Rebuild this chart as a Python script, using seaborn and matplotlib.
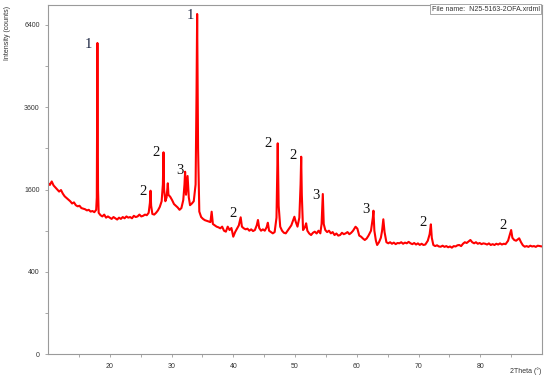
import numpy as np
import pandas as pd
import seaborn as sns
import matplotlib
matplotlib.use("Agg")
import matplotlib.pyplot as plt

# XRD pattern (2theta in degrees, intensity in counts)
two_theta = [
    10.0, 10.3, 10.6, 10.9, 11.2, 11.5, 11.8, 12.1, 12.4, 12.7, 13.0, 13.3, 13.6, 13.9,
    14.2, 14.5, 14.8, 15.1, 15.4, 15.7, 16.0, 16.3, 16.6, 16.9, 17.2, 17.5, 17.8, 17.9,
    18.0, 18.1, 18.2, 18.5, 18.8, 19.1, 19.4, 19.7, 20.0, 20.3, 20.6, 20.9, 21.2, 21.5,
    21.8, 22.1, 22.4, 22.7, 23.0, 23.3, 23.6, 23.9, 24.2, 24.5, 24.8, 25.1, 25.4, 25.7,
    26.0, 26.3, 26.5, 26.6, 26.7, 26.9, 27.2, 27.5, 27.8, 28.1, 28.4, 28.6, 28.7, 28.8,
    29.0, 29.2, 29.4, 29.5, 29.8, 30.1, 30.4, 30.7, 31.0, 31.3, 31.6, 31.9, 32.1, 32.2,
    32.35, 32.6, 32.8, 33.0, 33.3, 33.6, 33.9, 34.05, 34.15, 34.3, 34.5, 34.8, 35.1, 35.4,
    35.7, 36.0, 36.3, 36.5, 36.7, 37.0, 37.3, 37.6, 37.9, 38.2, 38.5, 38.8, 39.1, 39.4,
    39.7, 40.0, 40.3, 40.6, 40.9, 41.2, 41.4, 41.7, 42.0, 42.3, 42.6, 42.9, 43.2, 43.5,
    43.8, 44.0, 44.2, 44.5, 44.8, 45.1, 45.4, 45.6, 45.8, 46.1, 46.4, 46.7, 47.0, 47.2,
    47.35, 47.6, 47.9, 48.2, 48.5, 48.8, 49.1, 49.4, 49.7, 49.9, 50.1, 50.4, 50.7, 50.9,
    51.0, 51.1, 51.3, 51.6, 51.8, 52.0, 52.3, 52.6, 52.9, 53.2, 53.5, 53.8, 54.1, 54.3,
    54.5, 54.65, 54.9, 55.2, 55.5, 55.8, 56.1, 56.4, 56.7, 57.0, 57.3, 57.6, 57.9, 58.2,
    58.5, 58.8, 59.1, 59.4, 59.8, 60.1, 60.4, 60.7, 61.0, 61.3, 61.6, 61.9, 62.3, 62.6,
    62.7, 62.85, 63.1, 63.3, 63.6, 63.9, 64.1, 64.3, 64.5, 64.8, 65.1, 65.4, 65.7, 66.0,
    66.3, 66.6, 66.9, 67.2, 67.5, 67.8, 68.1, 68.4, 68.7, 69.0, 69.3, 69.6, 69.9, 70.2,
    70.5, 70.8, 71.1, 71.5, 71.8, 72.0, 72.15, 72.4, 72.7, 73.0, 73.3, 73.6, 73.9, 74.2,
    74.5, 74.8, 75.1, 75.4, 75.7, 76.0, 76.3, 76.6, 76.9, 77.2, 77.5, 77.8, 78.1, 78.4,
    78.7, 79.0, 79.3, 79.6, 79.9, 80.2, 80.5, 80.8, 81.1, 81.4, 81.7, 82.0, 82.3, 82.6,
    82.9, 83.2, 83.5, 83.8, 84.1, 84.5, 84.8, 85.0, 85.2, 85.5, 85.8, 86.1, 86.3, 86.6,
    86.9, 87.2, 87.5, 87.8, 88.1, 88.4, 88.7, 89.0, 89.3, 89.7, 90.0,
]
counts = [
    1730, 1690, 1760, 1680, 1640, 1600, 1560, 1590, 1520, 1470, 1440, 1410, 1380, 1340,
    1360, 1310, 1290, 1300, 1260, 1250, 1240, 1220, 1230, 1200, 1210, 1190, 1230, 1450,
    5710, 1600, 1180, 1140, 1120, 1150, 1100, 1120, 1100, 1080, 1110, 1090, 1070, 1100,
    1080, 1110, 1090, 1120, 1100, 1110, 1090, 1130, 1110, 1120, 1150, 1120, 1130, 1150,
    1140, 1180, 1350, 1577, 1300, 1160, 1150, 1180, 1220, 1280, 1380, 1700, 2404, 1600,
    1380, 1450, 1723, 1500, 1460, 1400, 1330, 1300, 1270, 1230, 1260, 1400, 1700, 1964,
    1500, 1873, 1450, 1310, 1340, 1380, 1700, 4000, 6823, 2500, 1200, 1110, 1080, 1060,
    1050, 1040, 1030, 1198, 1000, 980, 960, 950, 935, 960, 900, 886, 960, 910,
    940, 815, 880, 930, 980, 1106, 960, 935, 920, 930, 900, 920, 895, 910,
    980, 1063, 940, 900, 920, 900, 950, 1020, 900, 880, 862, 880, 1100, 2623,
    1300, 960, 900, 870, 862, 900, 940, 980, 1060, 1115, 1040, 960, 1100, 1700,
    2300, 1500, 910, 950, 1011, 900, 860, 838, 870, 886, 860, 900, 862, 1000,
    1514, 1000, 910, 880, 900, 862, 880, 838, 860, 830, 838, 870, 850, 862,
    880, 850, 870, 900, 959, 930, 830, 815, 790, 770, 790, 830, 900, 1100,
    1215, 900, 760, 704, 740, 800, 900, 1074, 880, 740, 726, 740, 720, 735,
    715, 730, 726, 740, 720, 735, 726, 745, 726, 715, 730, 710, 725, 705,
    720, 704, 710, 760, 850, 995, 800, 704, 690, 700, 685, 682, 695, 680,
    690, 675, 685, 670, 690, 685, 700, 704, 690, 720, 740, 730, 750, 770,
    740, 726, 740, 720, 730, 715, 725, 720, 710, 725, 704, 715, 704, 720,
    710, 725, 710, 720, 715, 760, 850, 910, 800, 770, 760, 780, 793, 740,
    700, 682, 690, 680, 695, 685, 690, 680, 695, 690, 685,
]

# phase labels written over the peaks
label_x = [16.6, 33.0, 25.4, 27.5, 31.4, 40.0, 45.7, 49.7, 53.4, 61.5, 70.8, 83.6]
label_y = [5672, 6782, 1571, 2411, 2001, 1176, 2630, 2317, 1495, 1227, 1016, 970]
label_text = ["1", "1", "2", "2", "3", "2", "2", "2", "3", "3", "2", "2"]

y_ticks = [0, 400, 1600, 3600, 6400]
y_minor = [100, 900, 2500, 4900]
x_ticks = [20, 30, 40, 50, 60, 70, 80]
x_minor = [15, 25, 35, 45, 55, 65, 75, 85]

sns.set_style("white")
plt.rcParams["font.family"] = ["Liberation Sans", "DejaVu Sans"]

df = pd.DataFrame({"two_theta": two_theta, "counts": counts})

fig = plt.figure(figsize=(5.5, 3.8), dpi=100)
ax = fig.add_axes([0.0873, 0.0676, 0.8982, 0.92])

sns.lineplot(data=df, x="two_theta", y="counts", ax=ax, color="#ff0000",
             linewidth=1.5, sort=False)

ax.set_yscale("function", functions=(lambda v: np.sqrt(np.clip(v, 0, None)), np.square))
ax.set_xlim(10, 90)
ax.set_ylim(0, 7200)
ax.set_yticks(y_ticks)
ax.set_yticks(y_minor, minor=True)
ax.set_xticks(x_ticks)
ax.set_xticks(x_minor, minor=True)
ax.set_xlabel("")
ax.set_ylabel("")

for s in ax.spines.values():
    s.set_color("#9a9a9a")
    s.set_linewidth(0.8)
ax.tick_params(which="both", direction="out", color="#9a9a9a", labelsize=5,
               labelcolor="#333333", length=2.5, width=0.6, left=True, bottom=True)
ax.tick_params(which="minor", length=2)

for x, y, t in zip(label_x, label_y, label_text):
    ax.text(x, y, t, ha="center", va="center", fontsize=10.5,
            family="Liberation Serif", color="#1a2440" if t == "1" else "#111111")

fig.text(0.013, 0.985, "Intensity (counts)", rotation=90, ha="center", va="top",
         fontsize=5, color="#333333")
fig.text(0.985, 0.022, "2Theta (°)", ha="right", va="center", fontsize=5, color="#333333")
ax.text(0.995, 0.997, "File name:  N25-5163-2OFA.xrdml", transform=ax.transAxes,
        ha="right", va="top", fontsize=5, color="#333333",
        bbox=dict(boxstyle="square,pad=0.25", fc="white", ec="#9a9a9a", lw=0.6))

fig.savefig("out.png", dpi=100)
